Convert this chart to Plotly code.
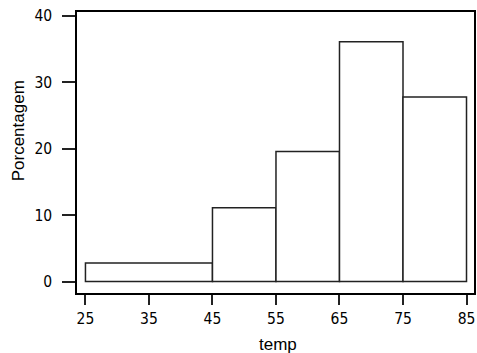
import plotly.graph_objects as go

bin_edges = [25, 45, 55, 65, 75, 85]
percentages = [2.78, 11.1, 19.6, 36.1, 27.8]
x_ticks = [25, 35, 45, 55, 65, 75, 85]
y_ticks = [0, 10, 20, 30, 40]

mids = [(a + b) / 2 for a, b in zip(bin_edges[:-1], bin_edges[1:])]
widths = [b - a for a, b in zip(bin_edges[:-1], bin_edges[1:])]

tick_font = dict(family="Liberation Sans Narrow, DejaVu Sans Condensed, Arial Narrow, sans-serif", size=15.5, color="#000")
title_font = dict(family="Liberation Sans, Arial, sans-serif", size=17, color="#000")

fig = go.Figure(go.Bar(
    x=mids, y=percentages, width=widths,
    marker=dict(color="white", line=dict(color="#222", width=1.5)),
))

W, H = 477, 353
ml, mr, mt, mb = 77, 1, 12, 60

fig.update_layout(
    width=W, height=H,
    margin=dict(l=ml, r=mr, t=mt, b=mb),
    plot_bgcolor="white", paper_bgcolor="white",
    showlegend=False,
    xaxis=dict(range=[23.67, 86.18], tickvals=x_ticks, ticks="outside", ticklen=10,
               tickwidth=1.5, tickcolor="#222", showline=True, linecolor="#000",
               linewidth=1.5, mirror=True, showgrid=False, zeroline=False,
               tickfont=tick_font, ticklabelstandoff=1),
    yaxis=dict(range=[-1.73, 40.6], tickvals=y_ticks, ticks="outside", ticklen=13,
               tickwidth=1.5, tickcolor="#222", showline=True, linecolor="#000",
               linewidth=1.5, mirror=True, showgrid=False, zeroline=False,
               tickfont=tick_font, ticklabelstandoff=7),
    annotations=[
        dict(text="temp", xref="paper", yref="paper", showarrow=False,
             font=title_font, xanchor="center", yanchor="middle"),
        dict(text="Porcentagem", xref="paper", yref="paper", showarrow=False,
             font=title_font, textangle=-90, xanchor="center", yanchor="middle"),
    ],
)
# convert pixel positions to paper coords for titles
ph = H - mt - mb
pw = W - ml - mr
fig.layout.annotations[0].y = (H - mb - 344) / ph
fig.layout.annotations[0].x = (279 - ml) / pw
fig.layout.annotations[1].x = (18 - ml) / pw
fig.layout.annotations[1].y = (H - mb - 131) / ph

fig.write_html("out.html")
